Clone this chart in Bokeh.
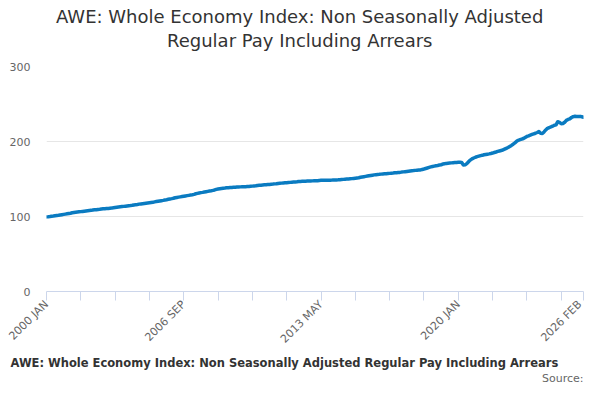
from bokeh.plotting import figure
from bokeh.models import Range1d, FixedTicker, Title, ColumnDataSource
from bokeh.embed import file_html
from bokeh.resources import INLINE

title_lines = ["AWE: Whole Economy Index: Non Seasonally Adjusted",
               "Regular Pay Including Arrears"]
series_name = "AWE: Whole Economy Index: Non Seasonally Adjusted Regular Pay Including Arrears"
source_text = "Source:"

years = list(range(2000, 2027))
month_names = ["JAN", "FEB", "MAR", "APR", "MAY", "JUN",
               "JUL", "AUG", "SEP", "OCT", "NOV", "DEC"]

v2000 = [99.5, 99.6, 99.9, 100.3, 100.6, 101.0, 101.3, 101.6, 102.0, 102.4, 102.8, 103.2]
v2001 = [103.6, 104.0, 104.4, 105.0, 105.3, 105.6, 105.9, 106.2, 106.5, 106.8, 107.1, 107.4]
v2002 = [107.7, 108.0, 108.2, 108.6, 108.9, 109.1, 109.4, 109.6, 109.9, 110.2, 110.4, 110.6]
v2003 = [110.8, 111.0, 111.2, 111.7, 112.0, 112.3, 112.6, 112.9, 113.2, 113.5, 113.8, 114.1]
v2004 = [114.4, 114.6, 114.9, 115.4, 115.8, 116.1, 116.5, 116.8, 117.1, 117.4, 117.7, 118.0]
v2005 = [118.3, 118.6, 118.9, 119.5, 119.9, 120.3, 120.7, 121.1, 121.5, 122.0, 122.4, 122.9]
v2006 = [123.4, 123.8, 124.3, 125.0, 125.4, 125.8, 126.2, 126.6, 127.0, 127.4, 127.8, 128.2]
v2007 = [128.6, 129.0, 129.5, 130.3, 130.8, 131.3, 131.8, 132.2, 132.7, 133.1, 133.5, 133.9]
v2008 = [134.3, 134.8, 135.4, 136.2, 136.7, 137.1, 137.4, 137.7, 137.9, 138.2, 138.4, 138.6]
v2009 = [138.8, 139.0, 139.1, 139.3, 139.4, 139.5, 139.6, 139.7, 139.8, 140.0, 140.1, 140.3]
v2010 = [140.5, 140.8, 141.0, 141.4, 141.6, 141.8, 142.0, 142.2, 142.4, 142.6, 142.8, 143.0]
v2011 = [143.2, 143.5, 143.7, 144.1, 144.3, 144.5, 144.7, 144.9, 145.1, 145.3, 145.5, 145.7]
v2012 = [145.9, 146.1, 146.3, 146.6, 146.8, 146.9, 147.0, 147.1, 147.2, 147.3, 147.4, 147.5]
v2013 = [147.6, 147.7, 147.8, 148.1, 148.2, 148.3, 148.3, 148.4, 148.4, 148.5, 148.5, 148.6]
v2014 = [148.7, 148.8, 148.9, 149.1, 149.3, 149.5, 149.7, 149.9, 150.1, 150.3, 150.5, 150.8]
v2015 = [151.1, 151.4, 151.7, 152.3, 152.7, 153.1, 153.5, 153.9, 154.3, 154.7, 155.1, 155.5]
v2016 = [155.8, 156.0, 156.2, 156.5, 156.7, 156.9, 157.1, 157.3, 157.5, 157.7, 157.9, 158.2]
v2017 = [158.4, 158.6, 158.8, 159.2, 159.5, 159.8, 160.1, 160.4, 160.7, 161.0, 161.2, 161.5]
v2018 = [161.7, 161.9, 162.1, 162.7, 163.3, 164.0, 164.7, 165.4, 166.1, 166.7, 167.2, 167.7]
v2019 = [168.1, 168.6, 169.0, 169.9, 170.4, 170.8, 171.1, 171.3, 171.5, 171.7, 171.9, 172.0]
v2020 = [172.2, 172.3, 172.0, 168.6, 168.9, 170.5, 173.0, 175.2, 176.8, 178.0, 179.0, 179.8]
v2021 = [180.5, 181.2, 181.6, 182.3, 182.7, 183.1, 183.5, 184.0, 184.6, 185.3, 186.0, 186.8]
v2022 = [187.4, 188.0, 188.6, 189.8, 190.9, 192.0, 193.4, 194.8, 196.4, 198.2, 200.2, 201.6]
v2023 = [202.4, 203.2, 204.0, 205.4, 206.8, 207.6, 208.5, 209.4, 210.2, 211.0, 212.0, 213.2]
v2024 = [211.0, 210.6, 212.8, 215.4, 217.6, 218.6, 219.4, 220.4, 221.6, 222.2, 226.4, 225.6]
v2025 = [223.8, 224.0, 225.6, 228.2, 229.4, 230.2, 232.0, 233.2, 233.6, 233.4, 233.2, 233.5]
v2026 = [233.0, 232.4]

yearly = [v2000, v2001, v2002, v2003, v2004, v2005, v2006, v2007, v2008, v2009,
          v2010, v2011, v2012, v2013, v2014, v2015, v2016, v2017, v2018, v2019,
          v2020, v2021, v2022, v2023, v2024, v2025, v2026]

categories = []
values = []
for yr, vals in zip(years, yearly):
    for i, v in enumerate(vals):
        categories.append(f"{yr} {month_names[i]}")
        values.append(v)

idx = list(range(len(values)))
n_last = len(values) - 1

label_every = 80
minor_every = 20
y_ticks = [0, 100, 200, 300]

major_ticks = list(range(0, n_last - 10, label_every)) + [n_last]
minor_ticks = [t for t in range(0, n_last, minor_every) if t not in major_ticks]
overrides = {t: categories[t] for t in major_ticks}

src = ColumnDataSource(dict(x=idx, y=values, cat=categories))

p = figure(width=584, height=384, output_backend="svg", toolbar_location=None,
           x_range=Range1d(0, n_last), y_range=Range1d(0, 300))
p.min_border_left = 46
p.min_border_right = 1
p.min_border_top = 66
p.min_border_bottom = 92
p.outline_line_color = None
p.background_fill_color = "white"
p.border_fill_color = "white"

line = p.line("x", "y", source=src, line_color="#0a7bc1", line_width=3.5,
              line_join="round", line_cap="round")

# x axis
xa = p.xaxis[0]
xa.ticker = FixedTicker(ticks=major_ticks, minor_ticks=minor_ticks)
xa.major_label_overrides = overrides
xa.major_label_orientation = 0.785398
xa.axis_line_color = "#ccd6eb"
xa.major_tick_line_color = "#ccd6eb"
xa.minor_tick_line_color = "#ccd6eb"
xa.major_tick_in = 0
xa.major_tick_out = 9
xa.minor_tick_in = 0
xa.minor_tick_out = 9
xa.major_label_text_font = "DejaVu Sans"
xa.major_label_text_font_size = "11px"
xa.major_label_text_color = "#666666"
xa.major_label_standoff = 2

# y axis
ya = p.yaxis[0]
ya.ticker = FixedTicker(ticks=y_ticks)
ya.axis_line_color = None
ya.major_tick_line_color = None
ya.minor_tick_line_color = None
ya.major_tick_out = 0
ya.major_tick_in = 0
ya.major_label_standoff = 16
ya.major_label_text_font = "DejaVu Sans"
ya.major_label_text_font_size = "11px"
ya.major_label_text_color = "#666666"

p.xgrid.grid_line_color = None
p.ygrid.grid_line_color = "#e6e6e6"
p.ygrid.ticker = FixedTicker(ticks=y_ticks)

# ---- above: spacer, then title line 2, then title line 1 ----
p.add_layout(Title(text=" ", standoff=12, text_font_size="1px",
                   text_color="white"), "above")
p.add_layout(Title(text=title_lines[1], align="left", offset=120.5, standoff=2,
                   text_font="DejaVu Sans", text_font_size="18px",
                   text_font_style="normal", text_color="#333333"), "above")
p.add_layout(Title(text=title_lines[0], align="left", offset=9.5, standoff=0,
                   text_font="DejaVu Sans", text_font_size="18px",
                   text_font_style="normal", text_color="#333333"), "above")

# ---- below: (axis), legend text, source ----
p.add_layout(Title(text=series_name, align="left", offset=-36, standoff=0,
                   text_font="DejaVu Sans", text_font_size="11.5px",
                   text_font_style="bold", text_color="#333333"), "below")
p.add_layout(Title(text=source_text, align="right", offset=0, standoff=0,
                   text_font="DejaVu Sans", text_font_size="11px",
                   text_font_style="normal", text_color="#666666"), "below")

open("out.html", "w").write(file_html(p, INLINE))
